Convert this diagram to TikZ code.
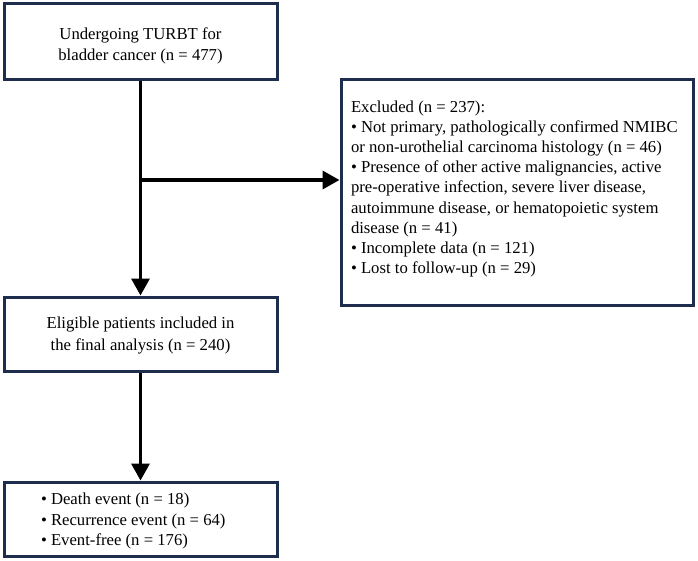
\documentclass[tikz,border=0pt]{standalone}
\usepackage{fontspec}
\setmainfont{Liberation Serif}
\usetikzlibrary{arrows.meta,calc}
\definecolor{navy}{RGB}{30,45,78}
\begin{document}
\begin{tikzpicture}[x=1pt,y=-1pt,
  box/.style={draw=navy,line width=3pt,fill=white,inner sep=0pt,minimum width=273pt,font=\fontsize{16.7}{21.5}\selectfont},
  conn/.style={line width=3.5pt,-{Triangle[width=18pt,length=17pt]}}]
\useasboundingbox (0,0) rectangle (698,560);
\node[box,minimum height=76pt] (b1) at (140.5,41)
 {\begin{minipage}[c][66pt][c]{260pt}\vspace*{10pt}\centering Undergoing TURBT for\\bladder cancer (n = 477)\end{minipage}};
\node[box,minimum height=74pt] (b2) at (140.5,334)
 {\begin{minipage}[c][66pt][c]{260pt}\vspace*{3pt}\centering Eligible patients included in\\the final analysis (n = 240)\end{minipage}};
\node[box,minimum width=352pt,minimum height=226pt,font=\fontsize{16.7}{20.1}\selectfont] (b3) at (517,192)
 {\hspace*{8pt}\begin{minipage}[c][206pt][t]{340pt}\raggedright\vspace*{12pt}
 Excluded (n = 237):\\
 • Not primary, pathologically confirmed NMIBC\\
 or non-urothelial carcinoma histology (n = 46)\\
 • Presence of other active malignancies, active\\
 pre-operative infection, severe liver disease,\\
 autoimmune disease, or hematopoietic system\\
 disease (n = 41)\\
 • Incomplete data (n = 121)\\
 • Lost to follow-up (n = 29)
 \end{minipage}};
\node[box,minimum height=74pt,font=\fontsize{16.7}{20.5}\selectfont] (b4) at (140.5,519)
 {\begin{minipage}[c][66pt][c]{199pt}\vspace*{4pt}\raggedright
 • Death event (n = 18)\\
 • Recurrence event (n = 64)\\
 • Event-free (n = 176)
 \end{minipage}};
\coordinate (j) at (140.5,180);
\draw[conn] (b1.south) -- (b2.north);
\draw[conn] (j) -- (j -| b3.west);
\draw[conn] (b2.south) -- (b4.north);
\end{tikzpicture}
\end{document}
